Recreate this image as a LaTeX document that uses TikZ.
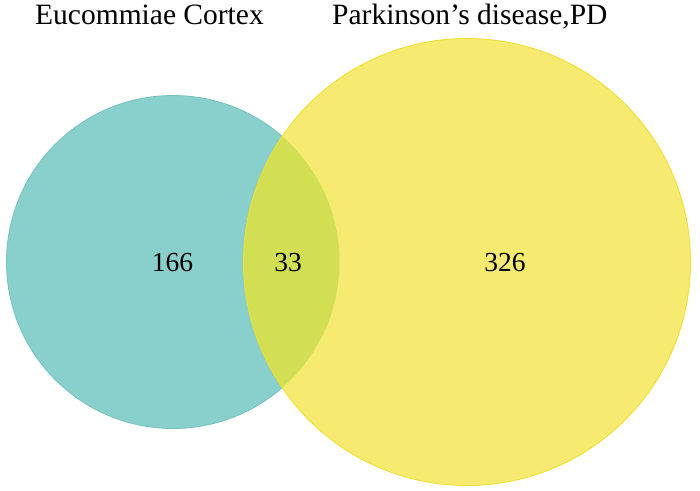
\documentclass[tikz,border=0pt]{standalone}
\usepackage{fontspec}
\setmainfont{Liberation Serif}
\definecolor{tealfill}{RGB}{137,207,204}
\definecolor{tealedge}{RGB}{115,195,192}
\definecolor{yelfill}{RGB}{246,234,112}
\definecolor{yeledge}{RGB}{240,222,40}
\definecolor{overfill}{RGB}{211,223,82}
\tikzset{
  lbl/.style={font=\fontsize{29.5}{33}\selectfont, inner sep=0pt, anchor=base west},
  num/.style={font=\fontsize{27.5}{32}\selectfont, inner sep=0pt, anchor=base},
}
\begin{document}
\begin{tikzpicture}[x=1pt,y=-1pt]
\useasboundingbox (0,0) rectangle (700,490);
\fill[white] (0,0) rectangle (700,490);
\coordinate (cL) at (173,262);
\coordinate (cR) at (467,262);
\fill[tealfill] (cL) circle[radius=166.5];
\draw[tealedge, line width=0.8pt] (cL) circle[radius=166.5];
\fill[yelfill] (cR) circle[radius=223.5];
\begin{scope}
  \clip (cL) circle[radius=166.5];
  \fill[overfill] (cR) circle[radius=223.5];
\end{scope}
\draw[yeledge, line width=0.8pt] (cR) circle[radius=223.5];
\node[lbl] (tL) at (35,24) {Eucommiae Cortex};
\node[lbl] (tR) at (332,24) {Parkinson’s disease,PD};
\node[num] (n1) at (172.5,271) {166};
\node[num] (n2) at (288,271) {33};
\node[num] (n3) at (505,271) {326};
\end{tikzpicture}
\end{document}
